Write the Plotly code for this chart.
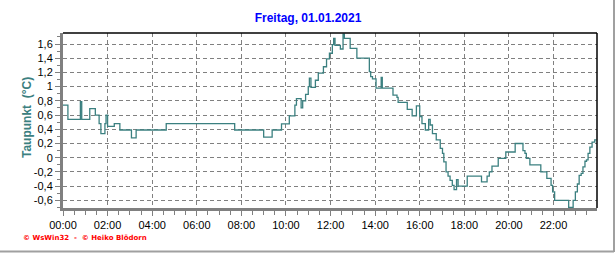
import plotly.graph_objects as go

# ---- data ----
hours = [0.0, 0.22, 0.78, 0.84, 1.2, 1.45, 1.62, 1.7, 1.88, 1.93, 2.0, 2.3, 2.55, 3.07, 3.28,
         4.63, 7.7, 9.0, 9.38, 9.8, 10.15, 10.4, 10.47, 10.68, 10.75, 10.88, 11.0, 11.05, 11.12,
         11.32, 11.45, 11.68, 11.82, 11.95, 12.08, 12.14, 12.2, 12.44, 12.56, 12.62, 12.88, 13.18,
         13.74, 13.8, 13.88, 14.04, 14.27, 14.32, 14.8, 14.98, 15.03, 15.44, 15.66, 15.85, 16.0,
         16.1, 16.25, 16.4, 16.47, 16.57, 16.74, 16.92, 17.02, 17.08, 17.18, 17.27, 17.36, 17.46,
         17.54, 17.65, 17.72, 18.13, 18.77, 19.02, 19.12, 19.24, 19.52, 19.86, 20.28, 20.63, 20.72,
         20.78, 20.94, 21.43, 21.7, 21.89, 21.96, 22.05, 22.68, 22.88, 22.98, 23.07, 23.15, 23.24,
         23.32, 23.41, 23.48, 23.55, 23.63, 23.73, 23.85, 23.93]
dewpoint = [0.74, 0.54, 0.79, 0.54, 0.69, 0.60, 0.48, 0.34, 0.48, 0.60, 0.44, 0.48, 0.39, 0.28, 0.39,
            0.48, 0.39, 0.29, 0.39, 0.475, 0.59, 0.74, 0.83, 0.70, 0.80, 0.89, 1.0, 1.12, 0.99,
            1.09, 1.19, 1.28, 1.39, 1.47, 1.59, 1.68, 1.58, 1.53, 1.74, 1.68, 1.54, 1.40,
            1.21, 1.14, 1.11, 0.98, 1.13, 0.98, 0.88, 0.85, 0.78, 0.68, 0.59, 0.73, 0.58,
            0.48, 0.39, 0.54, 0.46, 0.34, 0.25, 0.13, 0.06, -0.06, -0.20, -0.26, -0.32, -0.39,
            -0.45, -0.31, -0.40, -0.26, -0.34, -0.26, -0.20, -0.12, -0.01, 0.08, 0.20, 0.10, 0.06,
            -0.01, -0.10, -0.20, -0.29, -0.39, -0.48, -0.60, -0.70, -0.60, -0.48, -0.37, -0.25, -0.22,
            -0.13, -0.05, -0.03, 0.06, 0.15, 0.22, 0.25, 0.25]

x_tickvals = [0, 2, 4, 6, 8, 10, 12, 14, 16, 18, 20, 22]
x_ticktext = ["00:00", "02:00", "04:00", "06:00", "08:00", "10:00", "12:00", "14:00",
              "16:00", "18:00", "20:00", "22:00"]
y_tickvals = [-0.6, -0.4, -0.2, 0, 0.2, 0.4, 0.6, 0.8, 1.0, 1.2, 1.4, 1.6]
y_ticktext = ["-0,6", "-0,4", "-0,2", "0", "0,2", "0,4", "0,6", "0,8", "1", "1,2", "1,4", "1,6"]

title_text = "Freitag, 01.01.2021"
ytitle_text = "Taupunkt  (°C)"
footer_text = "© WsWin32  -  © Heiko Blödorn"

LINE = "#3b8080"
GRID = "#808080"
FONT = "Liberation Sans, Arial, sans-serif"

fig = go.Figure()
fig.add_trace(go.Scatter(x=hours, y=dewpoint, mode="lines", line=dict(color=LINE, width=1.3, shape="hv"),
                         hoverinfo="skip", showlegend=False))

fig.update_layout(
    width=616, height=253,
    margin=dict(l=63, r=19, t=33, b=45),
    paper_bgcolor="white", plot_bgcolor="white",
    font=dict(family=FONT, size=11, color="black"),
    title=dict(text="<b>" + title_text + "</b>", x=0.5, xref="container", xanchor="center",
               y=1 - 18 / 253, yref="container", yanchor="middle",
               font=dict(family=FONT, size=12, color="#0000ff")),
    xaxis=dict(range=[0, 23.95], tickvals=x_tickvals, ticktext=x_ticktext,
               showgrid=True, gridcolor=GRID, griddash="4px,3px", gridwidth=1,
               showline=True, linecolor="#808080", linewidth=3,
               ticks="outside", ticklen=5, tickwidth=1, tickcolor="#808080",
               minor=dict(dtick=0.5, ticks="outside", ticklen=4, tickcolor="#808080", showgrid=False),
               zeroline=False, fixedrange=True, tickfont=dict(size=11)),
    yaxis=dict(range=[-0.708, 1.755], tickvals=y_tickvals, ticktext=y_ticktext,
               showgrid=True, gridcolor=GRID, griddash="4px,3px", gridwidth=1,
               showline=True, linecolor="#808080", linewidth=3,
               ticks="outside", ticklen=5, tickwidth=1, tickcolor="#808080",
               minor=dict(dtick=0.1, tick0=0, ticks="outside", ticklen=3, tickcolor="#808080", showgrid=False),
               zeroline=False, fixedrange=True, tickfont=dict(size=11)),
)

# top and right frame (black)
fig.add_shape(type="line", xref="paper", yref="paper", x0=0, x1=1, y0=1, y1=1,
              line=dict(color="black", width=1.5))
fig.add_shape(type="line", xref="paper", yref="paper", x0=1, x1=1, y0=0, y1=1,
              line=dict(color="black", width=1.5))
# outer grey border (right and bottom)
fig.add_shape(type="line", xref="paper", yref="paper", x0=(614 - 63) / 534, x1=(614 - 63) / 534,
              y0=(208 - 252) / 175, y1=(208 - 0) / 175, line=dict(color="#a0a0a0", width=2))
fig.add_shape(type="line", xref="paper", yref="paper", x0=(0 - 63) / 534, x1=(614 - 63) / 534,
              y0=(208 - 251.5) / 175, y1=(208 - 251.5) / 175, line=dict(color="#a0a0a0", width=2))

# y-axis title
fig.add_annotation(text="<b>" + ytitle_text + "</b>", xref="paper", yref="paper",
                   x=(27 - 63) / 534, y=(208 - 118) / 175, textangle=-90, showarrow=False,
                   xanchor="center", yanchor="middle",
                   font=dict(family=FONT, size=12, color=LINE))
# footer
fig.add_annotation(text="<b>" + footer_text + "</b>", xref="paper", yref="paper",
                   x=(21 - 63) / 534, y=(208 - 238) / 175, showarrow=False,
                   xanchor="left", yanchor="middle",
                   font=dict(family="DejaVu Sans, sans-serif", size=7, color="#ff0000"))

fig.write_html("out.html")
